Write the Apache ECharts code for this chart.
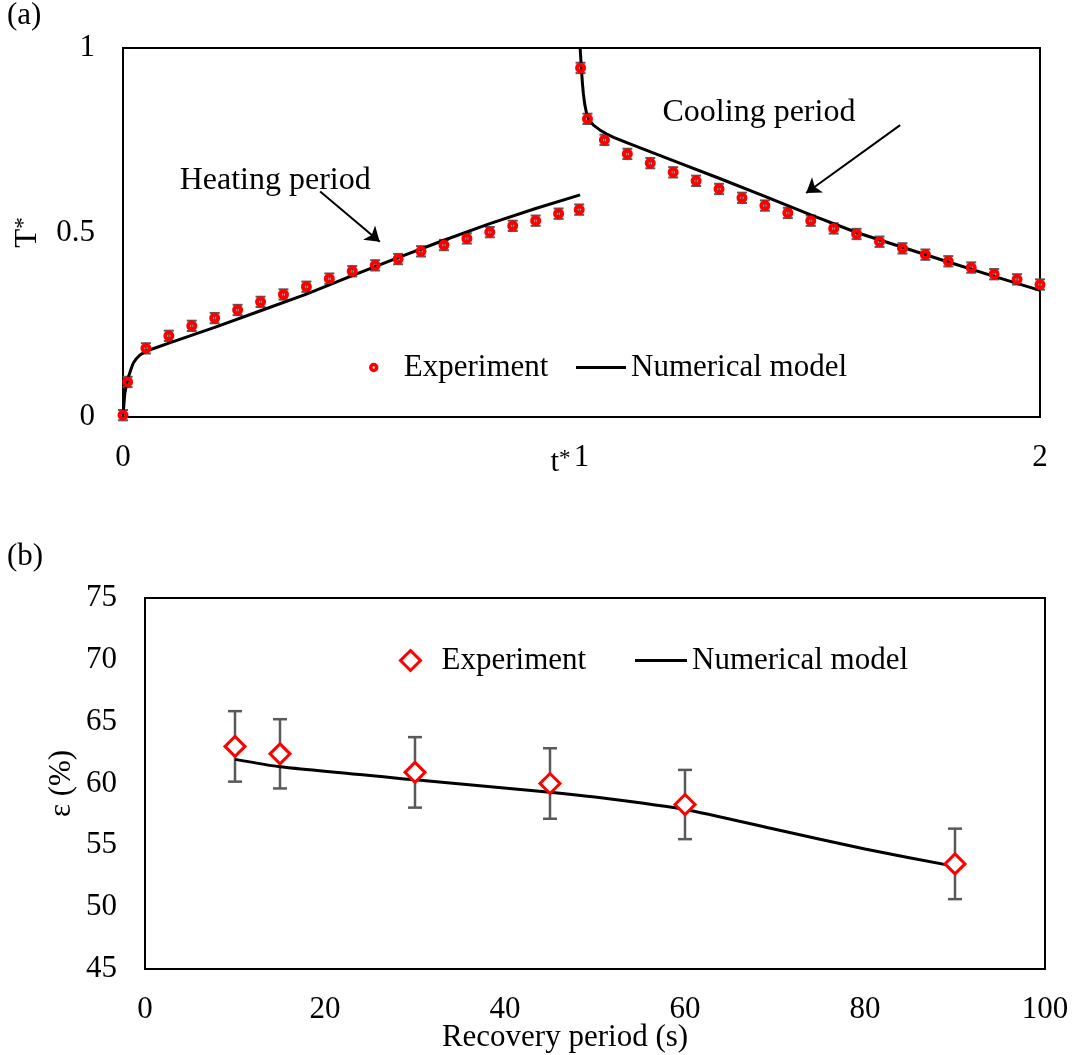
<!DOCTYPE html>
<html>
<head>
<meta charset="utf-8">
<title>T* and ε</title>
<script src="https://cdn.jsdelivr.net/npm/echarts@6.0.0/dist/echarts.min.js"></script>
<style>
    html, body { margin: 0; padding: 0; background: #fff; }
    #main { width: 1073px; height: 1055px; }
</style>
</head>
<body>
<div id="main"></div>
<script>
// (a) 加热 / 冷却 实验点
var heatT = [0, 0.01, 0.05, 0.1, 0.15, 0.2, 0.25, 0.3, 0.35, 0.4, 0.45, 0.5, 0.55, 0.6, 0.65, 0.7, 0.75, 0.8, 0.85, 0.9, 0.95, 0.995];
var heatExp = [0.005, 0.095, 0.186, 0.22, 0.247, 0.268, 0.29, 0.312, 0.332, 0.353, 0.375, 0.395, 0.411, 0.428, 0.449, 0.466, 0.484, 0.501, 0.518, 0.532, 0.551, 0.562];
var heatErr = [0.014, 0.014, 0.014, 0.014, 0.014, 0.014, 0.014, 0.014, 0.014, 0.014, 0.014, 0.014, 0.014, 0.014, 0.014, 0.014, 0.014, 0.014, 0.014, 0.014, 0.014, 0.014];
var coolT = [0.998, 1.013, 1.05, 1.1, 1.15, 1.2, 1.25, 1.3, 1.35, 1.4, 1.45, 1.5, 1.55, 1.6, 1.65, 1.7, 1.75, 1.8, 1.85, 1.9, 1.95, 2.0];
var coolExp = [0.946, 0.808, 0.751, 0.713, 0.688, 0.663, 0.64, 0.618, 0.594, 0.573, 0.553, 0.532, 0.511, 0.496, 0.475, 0.457, 0.44, 0.422, 0.405, 0.387, 0.373, 0.359];
var coolErr = [0.014, 0.014, 0.014, 0.014, 0.014, 0.014, 0.014, 0.014, 0.014, 0.014, 0.014, 0.014, 0.014, 0.014, 0.014, 0.014, 0.014, 0.014, 0.014, 0.014, 0.014, 0.014];
// (a) 数值模型曲线
var heatModelT = [0, 0.002, 0.004, 0.008, 0.012, 0.017, 0.022, 0.029, 0.037, 0.045, 0.052, 0.07, 0.1, 0.2, 0.3, 0.4, 0.5, 0.6, 0.7, 0.8, 0.9, 0.997];
var heatModel = [0, 0.035, 0.064, 0.09, 0.109, 0.128, 0.145, 0.158, 0.168, 0.174, 0.179, 0.187, 0.2, 0.243, 0.288, 0.333, 0.383, 0.432, 0.479, 0.524, 0.565, 0.602];
var coolModelT = [0.997, 1.0, 1.002, 1.004, 1.007, 1.011, 1.018, 1.026, 1.04, 1.055, 1.07, 1.1, 1.2, 1.3, 1.4, 1.5, 1.6, 1.7, 1.8, 1.9, 2.0];
var coolModel = [1.0, 0.94, 0.905, 0.877, 0.848, 0.823, 0.803, 0.791, 0.778, 0.767, 0.758, 0.743, 0.695, 0.647, 0.598, 0.548, 0.5, 0.46, 0.42, 0.381, 0.343];
var tTicks = [0, 1, 2];
var TTicks = [0, 0.5, 1];
// (b) 恢复时间 vs 效率
var recovery = [10, 15, 30, 45, 60, 90];
var effExp = [63.0, 62.4, 60.9, 60.0, 58.3, 53.5];
var effErr = [2.85, 2.8, 2.85, 2.85, 2.8, 2.85];
var recModelX = [10, 15, 30, 45, 50, 60, 70, 80, 90];
var effModel = [61.95, 61.35, 60.3, 59.3, 58.9, 57.9, 56.3, 54.7, 53.3];
var recTicks = [0, 20, 40, 60, 80, 100];
var effTicks = [45, 50, 55, 60, 65, 70, 75];
// 注释箭头 (数据坐标)
var heatArrow = [[0.43, 0.611], [0.56, 0.475]];
var coolArrow = [[1.695, 0.791], [1.49, 0.607]];
var heatLabelAt = [0.332, 0.64];
var coolLabelAt = [1.387, 0.824];

var serif = '"Liberation Serif", "Times New Roman", serif';
var txt = '#000';
var fs = 31;

function pairs(xs, ys) {
    var out = [];
    for (var i = 0; i < xs.length; i++) {
        out.push([xs[i], ys[i]]);
    }
    return out;
}
function errRows(xs, ys, es) {
    var out = [];
    for (var i = 0; i < xs.length; i++) {
        out.push([xs[i], ys[i] - es[i], ys[i] + es[i]]);
    }
    return out;
}
//误差棒
function errorBar(capHalf, width) {
    return function (params, api) {
        var x = api.value(0);
        var hi = api.coord([x, api.value(2)]);
        var lo = api.coord([x, api.value(1)]);
        var st = { stroke: '#595959', lineWidth: width };
        return {
            type: 'group',
            children: [
                { type: 'line', shape: { x1: hi[0], y1: hi[1], x2: lo[0], y2: lo[1] }, style: st },
                { type: 'line', shape: { x1: hi[0] - capHalf, y1: hi[1], x2: hi[0] + capHalf, y2: hi[1] }, style: st },
                { type: 'line', shape: { x1: lo[0] - capHalf, y1: lo[1], x2: lo[0] + capHalf, y2: lo[1] }, style: st }
            ]
        };
    };
}

var myChart = echarts.init(document.getElementById('main'));
var lineIcon = { name: 'Numerical model', icon: 'rect', itemStyle: { color: '#000', borderWidth: 0 } };
var option = {
    animation: false,
    backgroundColor: '#fff',
    textStyle: { fontFamily: serif },
    graphic: [
        { type: 'text', left: 7, top: 0, style: { text: '(a)', font: fs + 'px ' + serif, fill: txt } },
        { type: 'text', left: 7, top: 541, style: { text: '(b)', font: fs + 'px ' + serif, fill: txt } }
    ],
    grid: [
        { left: 123, top: 48, width: 917, height: 369, show: true, borderColor: '#000', borderWidth: 2 },
        { left: 145, top: 598, width: 900, height: 371, show: true, borderColor: '#000', borderWidth: 2 }
    ],
    legend: [
        {
            left: 364, top: 347, itemWidth: 50, itemHeight: 6, selectedMode: false,
            textStyle: { color: txt, fontSize: fs, fontFamily: serif },
            data: [{ name: 'Experiment', icon: 'circle', itemStyle: { color: '#fff', borderColor: '#ff0000', borderWidth: 3.5 } }]
        },
        {
            left: 571, top: 347, itemWidth: 50, itemHeight: 3, selectedMode: false,
            textStyle: { color: txt, fontSize: fs, fontFamily: serif },
            data: [lineIcon]
        },
        {
            left: 394, top: 640, itemWidth: 20, itemHeight: 20, selectedMode: false,
            textStyle: { color: txt, fontSize: fs, fontFamily: serif, padding: [0, 0, 0, 16] },
            data: [{ name: 'Experiment', icon: 'diamond', itemStyle: { color: '#fff', borderColor: '#ff0000', borderWidth: 3 } }]
        },
        {
            left: 630, top: 640, itemWidth: 52, itemHeight: 3, selectedMode: false,
            textStyle: { color: txt, fontSize: fs, fontFamily: serif },
            data: [lineIcon]
        }
    ],
    xAxis: [
        {
            gridIndex: 0, type: 'value', min: tTicks[0], max: tTicks[tTicks.length - 1], interval: 1,
            axisLine: { show: false }, axisTick: { show: false }, splitLine: { show: false },
            axisLabel: { color: txt, fontSize: fs, fontFamily: serif, margin: 25 },
            name: '{a|t}{b|*}', nameLocation: 'middle', nameGap: 30, nameMoveOverlap: false,
            nameTextStyle: {
                padding: [0, 42, 0, 0],
                rich: {
                    a: { fontSize: fs, fontFamily: serif, color: txt },
                    b: { fontSize: 23, fontFamily: serif, color: txt, verticalAlign: 'top' }
                }
            }
        },
        {
            gridIndex: 1, type: 'value', min: recTicks[0], max: recTicks[recTicks.length - 1], interval: 20,
            axisLine: { show: false }, axisTick: { show: false }, splitLine: { show: false },
            axisLabel: { color: txt, fontSize: fs, fontFamily: serif, margin: 25 },
            name: 'Recovery period (s)', nameLocation: 'middle', nameGap: 53, nameMoveOverlap: false,
            nameTextStyle: { color: txt, fontSize: fs, fontFamily: serif, padding: [0, 60, 0, 0] }
        }
    ],
    yAxis: [
        {
            gridIndex: 0, type: 'value', min: TTicks[0], max: TTicks[TTicks.length - 1], interval: 0.5,
            axisLine: { show: false }, axisTick: { show: false }, splitLine: { show: false },
            axisLabel: { color: txt, fontSize: fs, fontFamily: serif, margin: 28 },
            name: '{a|T}{b|*}', nameLocation: 'middle', nameRotate: 90, nameGap: 80, nameMoveOverlap: false,
            nameTextStyle: {
                rich: {
                    a: { fontSize: fs, fontFamily: serif, color: txt },
                    b: { fontSize: 23, fontFamily: serif, color: txt, verticalAlign: 'top' }
                }
            }
        },
        {
            gridIndex: 1, type: 'value', min: effTicks[0], max: effTicks[effTicks.length - 1], interval: 5,
            axisLine: { show: false }, axisTick: { show: false }, splitLine: { show: false },
            axisLabel: { color: txt, fontSize: fs, fontFamily: serif, margin: 28 },
            name: 'ε (%)', nameLocation: 'middle', nameRotate: 90, nameGap: 68, nameMoveOverlap: false,
            nameTextStyle: { color: txt, fontSize: fs, fontFamily: serif }
        }
    ],
    series: [
        //(a) 误差棒
        {
            type: 'custom', xAxisIndex: 0, yAxisIndex: 0, z: 1, silent: true,
            renderItem: errorBar(5, 2), encode: { x: 0, y: [1, 2] },
            data: errRows(heatT, heatExp, heatErr)
        },
        {
            type: 'custom', xAxisIndex: 0, yAxisIndex: 0, z: 1, silent: true,
            renderItem: errorBar(5, 2), encode: { x: 0, y: [1, 2] },
            data: errRows(coolT, coolExp, coolErr)
        },
        {
            name: 'Numerical model', type: 'line', xAxisIndex: 0, yAxisIndex: 0, z: 2,
            symbol: 'none', smooth: false,
            lineStyle: { color: '#000', width: 3 }, itemStyle: { color: '#000' },
            data: pairs(heatModelT, heatModel),
            markLine: {
                silent: true, symbol: ['none', 'arrow'], symbolSize: 14,
                lineStyle: { color: '#000', width: 2, type: 'solid' },
                label: { show: false },
                data: [
                    [{ coord: heatArrow[0] }, { coord: heatArrow[1] }],
                    [{ coord: coolArrow[0] }, { coord: coolArrow[1] }]
                ]
            },
            markPoint: {
                silent: true, symbol: 'circle', symbolSize: 1,
                itemStyle: { color: 'rgba(0,0,0,0)' },
                label: { show: true, position: 'inside', formatter: '{b}', color: txt, fontSize: 32, fontFamily: serif },
                data: [
                    { name: 'Heating period', coord: heatLabelAt },
                    { name: 'Cooling period', coord: coolLabelAt }
                ]
            }
        },
        {
            name: 'Numerical model', type: 'line', xAxisIndex: 0, yAxisIndex: 0, z: 2,
            symbol: 'none', smooth: false,
            lineStyle: { color: '#000', width: 3 }, itemStyle: { color: '#000' },
            data: pairs(coolModelT, coolModel)
        },
        {
            name: 'Experiment', type: 'scatter', xAxisIndex: 0, yAxisIndex: 0, z: 3,
            symbol: 'circle', symbolSize: 7,
            itemStyle: { color: 'rgba(0,0,0,0)', borderColor: '#ff0000', borderWidth: 4, opacity: 1 },
            data: pairs(heatT, heatExp)
        },
        {
            name: 'Experiment', type: 'scatter', xAxisIndex: 0, yAxisIndex: 0, z: 3,
            symbol: 'circle', symbolSize: 7,
            itemStyle: { color: 'rgba(0,0,0,0)', borderColor: '#ff0000', borderWidth: 4, opacity: 1 },
            data: pairs(coolT, coolExp)
        },
        //(b)
        {
            type: 'custom', xAxisIndex: 1, yAxisIndex: 1, z: 1, silent: true,
            renderItem: errorBar(7, 2.5), encode: { x: 0, y: [1, 2] },
            data: errRows(recovery, effExp, effErr)
        },
        {
            name: 'Numerical model', type: 'line', xAxisIndex: 1, yAxisIndex: 1, z: 2,
            symbol: 'none', smooth: 0.2,
            lineStyle: { color: '#000', width: 3 }, itemStyle: { color: '#000' },
            data: pairs(recModelX, effModel)
        },
        {
            name: 'Experiment', type: 'scatter', xAxisIndex: 1, yAxisIndex: 1, z: 3,
            symbol: 'diamond', symbolSize: 20,
            itemStyle: { color: '#fff', borderColor: '#ff0000', borderWidth: 3, opacity: 1 },
            data: pairs(recovery, effExp)
        }
    ]
};
myChart.setOption(option);
</script>
</body>
</html>
